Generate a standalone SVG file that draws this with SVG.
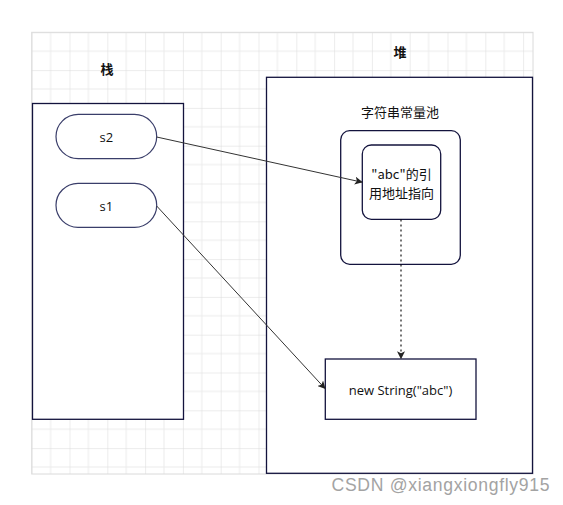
<svg xmlns="http://www.w3.org/2000/svg" width="563" height="505" viewBox="0 0 563 505">
<style>
.box{fill:#fff;stroke:#13133d;stroke-width:1.3}
.pill{fill:#fff;stroke:#3a3e6a;stroke-width:1.2}
.t{font-family:"Open Sans","Liberation Sans","Noto Sans CJK SC",sans-serif;font-size:13px;fill:#111;text-anchor:middle;dominant-baseline:central}
.cjk{font-family:"Noto Sans CJK SC","Liberation Sans",sans-serif;font-size:13px;fill:#111;text-anchor:middle;dominant-baseline:central}
.b{font-weight:bold}
.conn{fill:none;stroke:#333;stroke-width:1}
.dot{fill:none;stroke:#000;stroke-width:1.1;stroke-dasharray:2 3}
</style>
<defs>
<pattern id="grid" patternUnits="userSpaceOnUse" x="31.7" y="32.3" width="37.8" height="37.8">
<path d="M18.9 0V37.8M0 18.9H37.8" stroke="#ececec" stroke-width="1" fill="none"/>
<path d="M0 0V37.8M0 0H37.8" stroke="#dadada" stroke-width="1" fill="none"/>
</pattern>
<marker id="arr" viewBox="0 0 10 10" refX="9" refY="5" markerWidth="8" markerHeight="8" markerUnits="userSpaceOnUse" orient="auto">
<path d="M0 0L10 5L0 10L2.5 5Z" fill="#222"/>
</marker>
</defs>
<rect width="563" height="505" fill="#fff"/>
<rect x="31.7" y="32.3" width="501.3" height="441.7" fill="url(#grid)" stroke="#dadada" stroke-width="1"/>

<g id="stack-label"><text class="cjk b" x="107" y="68">栈</text></g>
<g id="heap-label"><text class="cjk b" x="400" y="51">堆</text></g>

<g id="stack"><rect class="box" x="32.5" y="103.5" width="151" height="315.8"/></g>
<g id="heap"><rect class="box" x="266.5" y="77.3" width="266" height="396"/></g>
<g id="pool-label"><text class="cjk" x="400" y="111.5">字符串常量池</text></g>
<g id="pool"><rect class="box" x="340.7" y="130.7" width="119.6" height="133.6" rx="9"/></g>
<g id="ref"><rect class="box" x="362.3" y="145" width="78.4" height="74.3" rx="9"/>
<text class="cjk" x="401.5" y="173.3">"abc"的引</text>
<text class="cjk" x="401.5" y="192">用地址指向</text></g>
<g id="s2"><rect class="pill" x="56" y="114.3" width="100.7" height="44.4" rx="22.2"/><text class="t" x="106.3" y="137">s2</text></g>
<g id="s1"><rect class="pill" x="56" y="183.3" width="100.7" height="44" rx="22"/><text class="t" x="106.3" y="206">s1</text></g>
<g id="newstring"><rect class="box" x="325.3" y="359" width="150.7" height="60.3"/><text class="t" x="400.5" y="390">new String("abc")</text></g>

<g id="connectors">
<path class="conn" d="M156.7 137L362 182.2" marker-end="url(#arr)"/>
<path class="conn" d="M156.7 206L325 388.5" marker-end="url(#arr)"/>
<path class="dot" d="M401 219.5V358.5" marker-end="url(#arr)"/>
</g>

<text x="331.5" y="484.5" font-family="Liberation Sans,sans-serif" font-size="17.6" fill="#a3a3a3" dominant-baseline="central" textLength="218">CSDN @xiangxiongfly915</text>
</svg>
